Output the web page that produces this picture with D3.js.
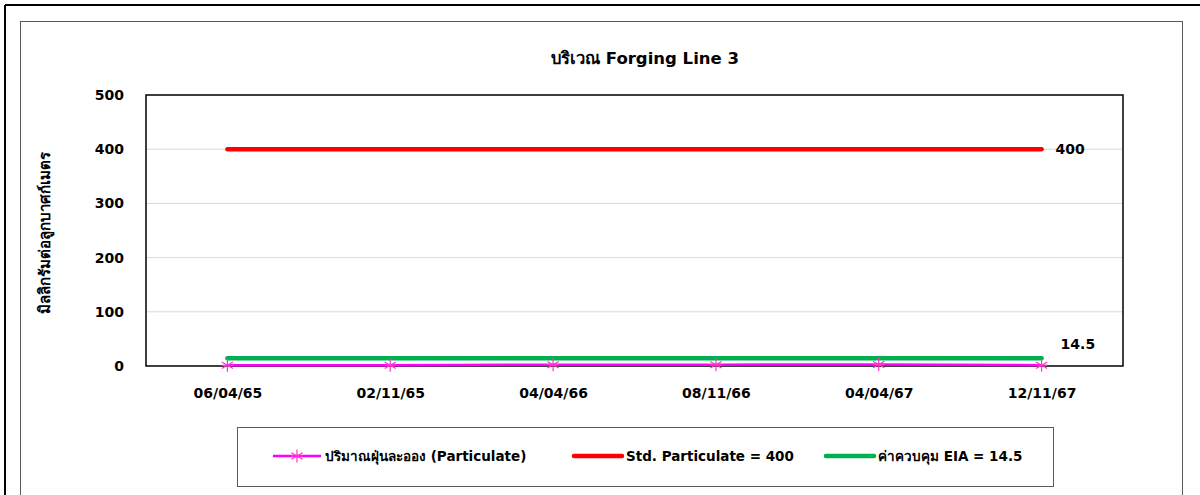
<!DOCTYPE html>
<html>
<head>
<meta charset="utf-8">
<script src="https://cdn.jsdelivr.net/npm/d3@7"></script>
<style>
  body { margin: 0; background: #fff; }
  text { font-family: Tahoma, "DejaVu Sans", "Noto Sans", sans-serif; }
</style>
</head>
<body>
<div id="chart"></div>
<script>
// data
const dates = ["06/04/65", "02/11/65", "04/04/66", "08/11/66", "04/04/67", "12/11/67"];
const particulate = [1.2, 1.5, 2.5, 2.5, 2.8, 1.5];
const stdParticulate = [400, 400, 400, 400, 400, 400];
const eiaLimit = [14.5, 14.5, 14.5, 14.5, 14.5, 14.5];
const yTicks = [0, 100, 200, 300, 400, 500];

const W = 1200, H = 495;
const plot = {left: 146, right: 1123, top: 95, bottom: 366};

const svg = d3.select("#chart").append("svg")
    .attr("width", W).attr("height", H);

// outer frame
svg.append("rect").attr("x", 0).attr("y", 0).attr("width", W).attr("height", H).attr("fill", "#fff");
svg.append("line").attr("x1", 5).attr("x2", W).attr("y1", 5).attr("y2", 5)
    .attr("stroke", "#000").attr("stroke-width", 2);
svg.append("line").attr("x1", 5).attr("x2", 5).attr("y1", 5).attr("y2", H)
    .attr("stroke", "#000").attr("stroke-width", 2);

// chart area border
svg.append("rect").attr("x", 20.5).attr("y", 21.5).attr("width", 1162).attr("height", 500)
    .attr("fill", "none").attr("stroke", "#595959").attr("stroke-width", 1);

const x = d3.scalePoint().domain(dates).range([plot.left, plot.right]).padding(0.5);
const y = d3.scaleLinear().domain([0, 500]).range([plot.bottom, plot.top]);

// gridlines
svg.append("g").selectAll("line").data(yTicks.filter(d => d > 0 && d < 500)).enter()
  .append("line")
    .attr("x1", plot.left).attr("x2", plot.right)
    .attr("y1", d => y(d)).attr("y2", d => y(d))
    .attr("stroke", "#d9d9d9").attr("stroke-width", 1);

// y axis
const yAxis = svg.append("g")
    .attr("transform", `translate(${plot.left},0)`)
    .call(d3.axisLeft(y).tickValues(yTicks).tickSize(0).tickPadding(22));
yAxis.select(".domain").remove();
yAxis.selectAll("text").attr("font-size", 14).attr("font-weight", "bold").attr("fill", "#000")
    .attr("font-family", "Tahoma, 'DejaVu Sans', sans-serif");

// x axis
const xAxis = svg.append("g")
    .attr("transform", `translate(0,${plot.bottom})`)
    .call(d3.axisBottom(x).tickSize(0).tickPadding(22));
xAxis.select(".domain").remove();
xAxis.selectAll("text").attr("font-size", 14).attr("font-weight", "bold").attr("fill", "#000")
    .attr("font-family", "Tahoma, 'DejaVu Sans', sans-serif");

// plot border
svg.append("rect").attr("x", plot.left).attr("y", plot.top)
    .attr("width", plot.right - plot.left).attr("height", plot.bottom - plot.top)
    .attr("fill", "none").attr("stroke", "#000").attr("stroke-width", 1.5);

const line = d3.line().x((d, i) => x(dates[i])).y(d => y(d));

// series
svg.append("path").datum(stdParticulate).attr("d", line)
    .attr("fill", "none").attr("stroke", "#ff0000").attr("stroke-width", 4.5).attr("stroke-linecap", "round");
svg.append("path").datum(eiaLimit).attr("d", line)
    .attr("fill", "none").attr("stroke", "#00b050").attr("stroke-width", 4.5).attr("stroke-linecap", "round");
svg.append("path").datum(particulate).attr("d", line)
    .attr("fill", "none").attr("stroke", "#ff00ff").attr("stroke-width", 2.5);

function star(g, cx, cy, r) {
  const s = g.append("g").attr("transform", `translate(${cx},${cy})`)
      .attr("stroke", "#ff33cc").attr("stroke-width", 1.2);
  [0, 60, 120].forEach(a => {
    const rad = a * Math.PI / 180;
    s.append("line").attr("x1", -r * Math.sin(rad)).attr("y1", -r * Math.cos(rad))
      .attr("x2", r * Math.sin(rad)).attr("y2", r * Math.cos(rad));
  });
  s.append("line").attr("x1", -r * 0.9).attr("x2", r * 0.9).attr("y1", 0).attr("y2", 0);
}
const markers = svg.append("g");
particulate.forEach((d, i) => star(markers, x(dates[i]), y(d), 6.5));

// end labels
const last = dates[dates.length - 1];
svg.append("text").attr("x", x(last) + 14).attr("y", y(400) + 4.5)
    .attr("font-size", 14).attr("font-weight", "bold").text("400");
svg.append("text").attr("x", x(last) + 19).attr("y", y(14.5) - 9)
    .attr("font-size", 14).attr("font-weight", "bold").text("14.5");

// title
svg.append("text").attr("x", 645).attr("y", 64).attr("text-anchor", "middle")
    .attr("font-size", 16.5).attr("font-weight", "bold").text("บริเวณ Forging Line 3");

// y axis title
svg.append("text")
    .attr("transform", `translate(50,${(plot.top + plot.bottom) / 2 + 2}) rotate(-90)`)
    .attr("text-anchor", "middle").attr("font-size", 15).attr("font-weight", "bold")
    .text("มิลลิกรัมต่อลูกบาศก์เมตร");

// legend
const legendItems = [
  {name: "ปริมาณฝุ่นละออง (Particulate)", color: "#ff00ff", width: 2.5, star: true, x: 273},
  {name: "Std. Particulate = 400", color: "#ff0000", width: 4.5, star: false, x: 574},
  {name: "ค่าควบคุม EIA = 14.5", color: "#00b050", width: 4.5, star: false, x: 826}
];
svg.append("rect").attr("x", 237.5).attr("y", 427.5).attr("width", 816).attr("height", 59)
    .attr("fill", "#fff").attr("stroke", "#595959").attr("stroke-width", 1);
const lg = svg.append("g");
legendItems.forEach(it => {
  lg.append("line").attr("x1", it.x).attr("x2", it.x + 48).attr("y1", 456).attr("y2", 456)
    .attr("stroke", it.color).attr("stroke-width", it.width).attr("stroke-linecap", it.star ? "butt" : "round");
  if (it.star) star(lg, it.x + 24, 456, 6.5);
  lg.append("text").attr("x", it.x + 52).attr("y", 461)
    .attr("font-size", 13.5).attr("font-weight", "bold").text(it.name);
});
</script>
</body>
</html>
